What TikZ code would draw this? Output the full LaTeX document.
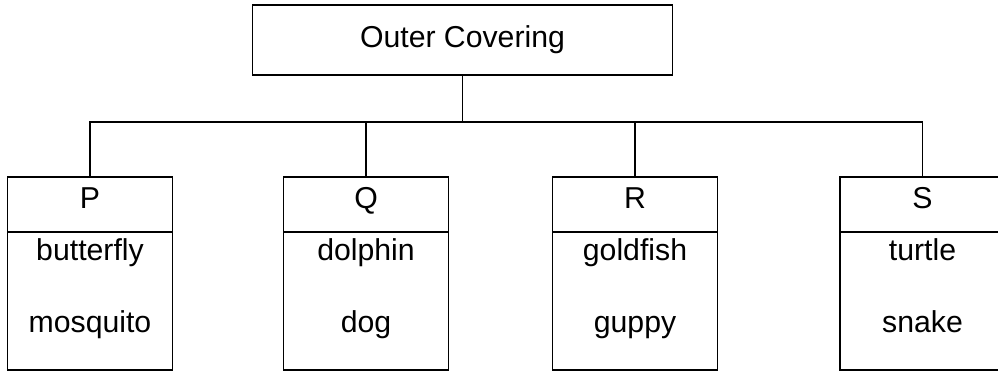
\documentclass[tikz,border=0pt]{standalone}
\usepackage{fontspec}
\setmainfont{Liberation Sans}
\usepackage{tikz}

\begin{document}
\begin{tikzpicture}[line width=0.9pt,
    topbox/.style={draw, minimum width=10.5cm, minimum height=1.75cm, font=\fontsize{21.5}{26}\selectfont},
    headbox/.style={draw, inner sep=2pt, minimum width=4.125cm, minimum height=1.375cm, text height=0.55cm, text depth=0.35cm, font=\fontsize{21.5}{26}\selectfont},
    bodybox/.style={draw, minimum width=4.125cm, minimum height=3.45cm},
    animal/.style={anchor=base, inner sep=0pt, font=\fontsize{21.5}{26}\selectfont}]
        \useasboundingbox (0,0) rectangle (24.95,9.325);
        \clip (0,0) rectangle (24.95,9.325);

        \node[topbox] (top) at (11.5625,8.325) {Outer Covering};

        \node[headbox] (P) at (2.25,4.2125) {P};
        \node[headbox] (Q) at (9.15,4.2125) {Q};
        \node[headbox] (R) at (15.875,4.2125) {R};
        \node[headbox] (S) at (23.0625,4.2125) {S};

        \node[bodybox] (Pb) at (2.25,1.8) {};
        \node[bodybox] (Qb) at (9.15,1.8) {};
        \node[bodybox] (Rb) at (15.875,1.8) {};
        \node[bodybox] (Sb) at (23.0625,1.8) {};

        \node[animal] (P1) at (2.25,2.8) {butterfly};
        \node[animal] (P2) at (2.25,1.025) {mosquito};
        \node[animal] (Q1) at (9.15,2.8) {dolphin};
        \node[animal] (Q2) at (9.15,1.025) {dog};
        \node[animal] (R1) at (15.875,2.8) {goldfish};
        \node[animal] (R2) at (15.875,1.025) {guppy};
        \node[animal] (S1) at (23.0625,2.8) {turtle};
        \node[animal] (S2) at (23.0625,1.025) {snake};

        \coordinate (bus) at (11.5625,6.275);

        \draw (top.south) -- (bus);
        \draw (P.north) |- (bus) -| (S.north);
        \draw (Q.north) -- (Q.north |- bus);
        \draw (R.north) -- (R.north |- bus);

\end{tikzpicture}
\end{document}
